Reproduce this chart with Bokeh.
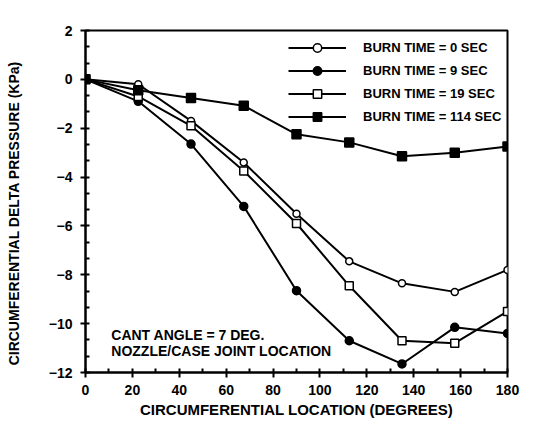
from bokeh.plotting import figure
from bokeh.models import Range1d, FixedTicker, Legend, LegendItem, Label
from bokeh.embed import file_html
from bokeh.resources import INLINE

# data
angles = [0, 22.5, 45, 67.5, 90, 112.5, 135, 157.5, 180]
burn_0 = [0, -0.2, -1.7, -3.4, -5.5, -7.45, -8.35, -8.7, -7.8]
burn_9 = [0, -0.9, -2.65, -5.2, -8.65, -10.7, -11.65, -10.15, -10.4]
burn_19 = [0, -0.7, -1.9, -3.75, -5.9, -8.45, -10.7, -10.8, -9.5]
burn_114 = [0, -0.45, -0.76, -1.08, -2.25, -2.58, -3.15, -3.0, -2.75]
labels = ["BURN TIME = 0 SEC", "BURN TIME = 9 SEC", "BURN TIME = 19 SEC", "BURN TIME = 114 SEC"]
x_ticks = [0, 20, 40, 60, 80, 100, 120, 140, 160, 180]
y_ticks = [2, 0, -2, -4, -6, -8, -10, -12]
note_lines = ["CANT ANGLE = 7 DEG.", "NOZZLE/CASE JOINT LOCATION"]

FONT = "Liberation Sans"

p = figure(width=525, height=422, output_backend="svg", toolbar_location=None,
           x_range=Range1d(0, 180), y_range=Range1d(-12, 2),
           min_border_left=85, min_border_right=18, min_border_top=30, min_border_bottom=50)
p.background_fill_color = "white"
p.border_fill_color = "white"
p.outline_line_color = "black"
p.outline_line_width = 2
p.xgrid.visible = False
p.ygrid.visible = False

p.xaxis.ticker = FixedTicker(ticks=x_ticks, minor_ticks=list(range(0, 181, 10)))
p.yaxis.ticker = FixedTicker(ticks=y_ticks, minor_ticks=[v / 3 * 2 for v in range(-18, 4)])

for ax in (p.xaxis[0], p.yaxis[0]):
    ax.axis_line_width = 2
    ax.major_tick_line_width = 2
    ax.minor_tick_line_width = 2
    ax.major_tick_out = 5
    ax.major_tick_in = 0
    ax.minor_tick_out = 0
    ax.minor_tick_in = 4
    ax.major_label_text_font = FONT
    ax.major_label_text_font_style = "bold"
    ax.major_label_text_font_size = "14px"
    ax.major_label_text_color = "black"
    ax.axis_label_text_font = FONT
    ax.axis_label_text_font_style = "bold"
    ax.axis_label_text_color = "black"

p.xaxis.axis_label = "CIRCUMFERENTIAL LOCATION (DEGREES)"
p.yaxis.axis_label = "CIRCUMFERENTIAL   DELTA   PRESSURE   (KPa)"
p.xaxis.axis_label_text_font_size = "15px"
p.yaxis.axis_label_text_font_size = "14px"
p.xaxis.major_label_standoff = 7
p.xaxis.axis_label_standoff = 3
p.yaxis.major_label_standoff = 8
p.yaxis.axis_label_standoff = 24

series = [burn_0, burn_9, burn_19, burn_114]
markers = [("circle", "white", 7), ("circle", "black", 8), ("square", "white", 8), ("square", "black", 9)]
items = []
for vals, (mk, fill, sz), lab in zip(series, markers, labels):
    ln = p.line(angles, vals, line_color="black", line_width=2)
    sc = p.scatter(angles, vals, marker=mk, size=sz, fill_color=fill, line_color="black", line_width=1.5)
    items.append(LegendItem(label=lab, renderers=[ln, sc]))

legend = Legend(items=items, location=(203, 245), padding=0, margin=0,
                glyph_width=58, glyph_height=21, spacing=2, label_standoff=17,
                background_fill_alpha=0, border_line_alpha=0,
                label_text_font=FONT, label_text_font_style="bold",
                label_text_font_size="13px", label_text_color="black")
p.add_layout(legend, "center")

for i, t in enumerate(note_lines):
    p.add_layout(Label(x=11, y=-10.48 - i * 0.62, text=t, text_font=FONT, text_font_style="bold",
                       text_font_size="14px", text_color="black", text_baseline="middle"))

open("out.html", "w").write(file_html(p, INLINE))
